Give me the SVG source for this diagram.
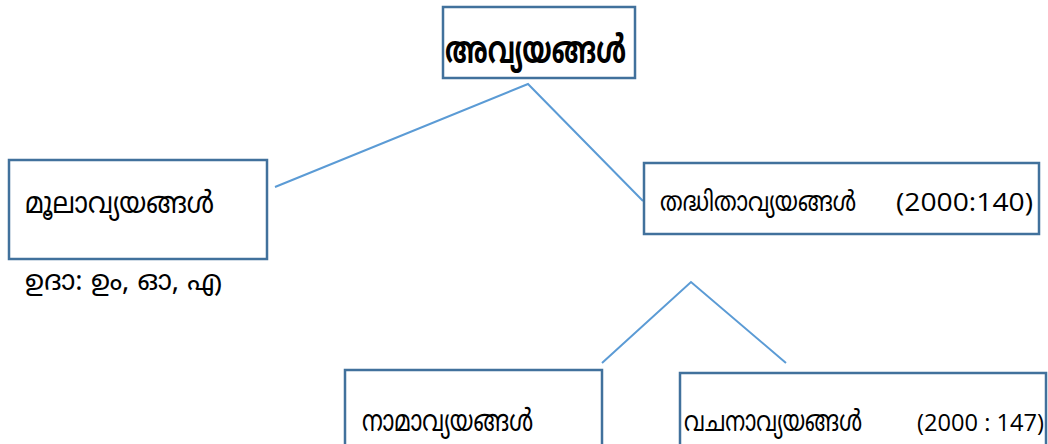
<svg xmlns="http://www.w3.org/2000/svg" width="1048" height="444" viewBox="0 0 1048 444">
  <style>
    .box { fill: #ffffff; stroke: #41719c; stroke-width: 2.5; }
    .link { fill: none; stroke: #5b9bd5; stroke-width: 2; }
    .ml { font-family: "Noto Sans Malayalam", "Noto Sans", "DejaVu Sans", sans-serif; fill: #000000; }
    .num { font-family: "Open Sans", "Noto Sans", sans-serif; fill: #000000; }
  </style>
  <rect width="1048" height="444" fill="#ffffff"/>

  <g id="connectors">
    <polyline class="link" points="275,187 528,84 643,201"/>
    <polyline class="link" points="602,363 691,282 786,363"/>
  </g>

  <g id="node-root">
    <rect class="box" x="443" y="7" width="192" height="71"/>
    <text class="ml" x="445" y="63" font-size="38" font-weight="bold" textLength="181" lengthAdjust="spacingAndGlyphs">അവ്യയങ്ങൾ</text>
  </g>

  <g id="node-moola">
    <rect class="box" x="9" y="160" width="258" height="99"/>
    <text class="ml" x="25" y="213" font-size="30" textLength="189" lengthAdjust="spacingAndGlyphs">മൂലാവ്യയങ്ങൾ</text>
  </g>
  <text class="ml" x="25" y="290" font-size="28" textLength="197" lengthAdjust="spacingAndGlyphs">ഉദാ: ഉം, ഓ, എ</text>

  <g id="node-taddhita">
    <rect class="box" x="644" y="163" width="395" height="71"/>
    <text class="ml" x="660" y="211" font-size="27" textLength="196" lengthAdjust="spacingAndGlyphs">തദ്ധിതാവ്യയങ്ങൾ</text>
    <text class="num" x="896" y="211" font-size="25" textLength="137" lengthAdjust="spacingAndGlyphs">(2000:140)</text>
  </g>

  <g id="node-nama">
    <rect class="box" x="345" y="370" width="257" height="80"/>
    <text class="ml" x="362" y="431" font-size="30" textLength="171" lengthAdjust="spacingAndGlyphs">നാമാവ്യയങ്ങൾ</text>
  </g>

  <g id="node-vachana">
    <rect class="box" x="680" y="373" width="366" height="80"/>
    <text class="ml" x="684" y="431" font-size="29" textLength="178" lengthAdjust="spacingAndGlyphs">വചനാവ്യയങ്ങൾ</text>
    <text class="num" x="917" y="431" font-size="24" textLength="127" lengthAdjust="spacingAndGlyphs">(2000 : 147)</text>
  </g>
</svg>
